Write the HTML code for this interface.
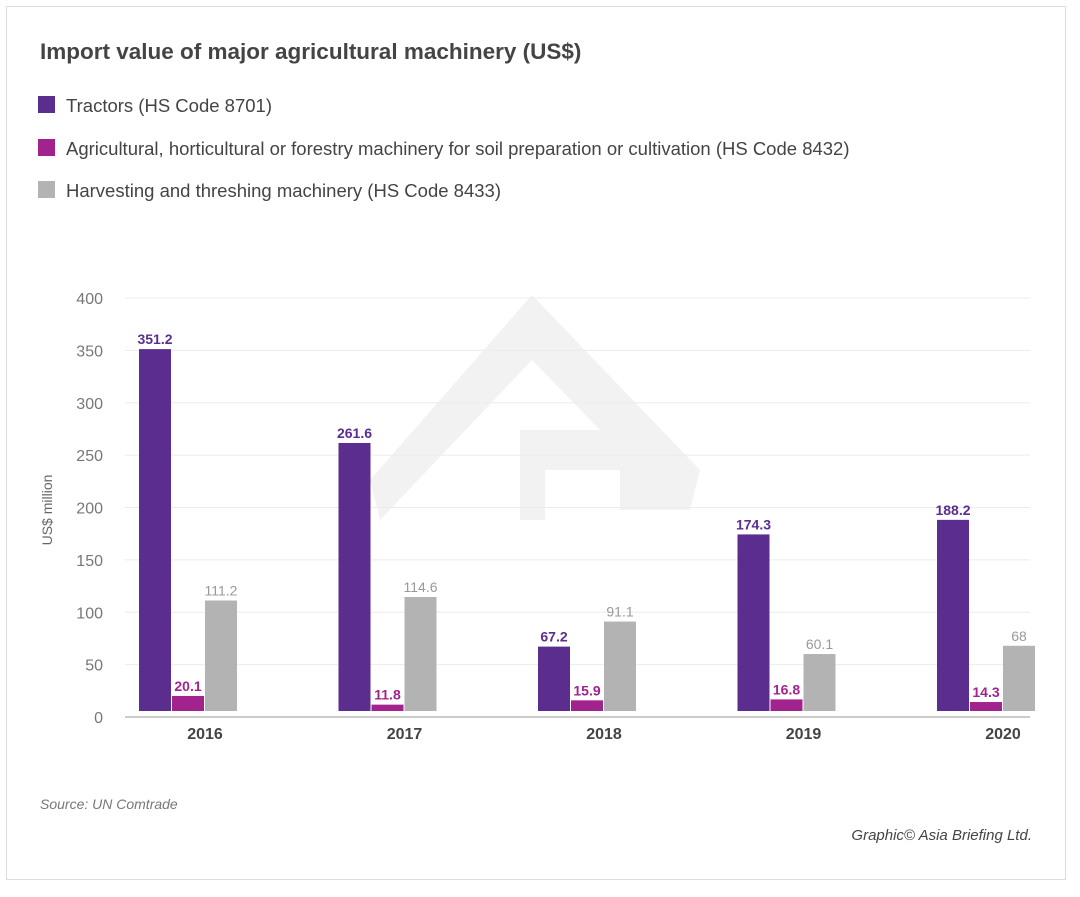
<!DOCTYPE html>
<html><head><meta charset="utf-8"><style>
body{margin:0;background:#fff;font-family:"Liberation Sans",sans-serif;}
#card{position:absolute;left:6px;top:6px;width:1058px;height:872px;border:1px solid #ddd;background:#fff;}
</style></head><body>
<div id="card"></div>
<svg id="chart" width="1080" height="897" style="position:absolute;left:0;top:0">
<text x="40" y="59" font-size="22.5" font-weight="bold" fill="#444">Import value of major agricultural machinery (US$)</text>
<g>
<rect x="38" y="96" width="17" height="17" fill="#5b2d8e"/>
<text x="66" y="112" font-size="18.5" fill="#444">Tractors (HS Code 8701)</text>
<rect x="38" y="139" width="17" height="17" fill="#a3238e"/>
<text x="66" y="155" font-size="18.5" fill="#444">Agricultural, horticultural or forestry machinery for soil preparation or cultivation (HS Code 8432)</text>
<rect x="38" y="181" width="17" height="17" fill="#b3b3b3"/>
<text x="66" y="197" font-size="18.5" fill="#444">Harvesting and threshing machinery (HS Code 8433)</text>
</g>
<polygon points="532,295 700,470 690,510 620,510 620,470 545,470 545,520 520,520 520,430 600,430 532,360 380,520 370,480" fill="#f2f2f2"/>
<g id="grid"></g><g id="bars"></g>
<text transform="translate(52,510) rotate(-90)" text-anchor="middle" font-size="14" fill="#666">US$ million</text>
<text x="40" y="809" font-size="14" font-style="italic" fill="#777">Source: UN Comtrade</text>
<text x="1032" y="840" text-anchor="end" font-size="15" font-style="italic" fill="#444">Graphic© Asia Briefing Ltd.</text>
</svg>
<script>
const categories=["2016","2017","2018","2019","2020"];
const tractors=[351.2,261.6,67.2,174.3,188.2];
const soil=[20.1,11.8,15.9,16.8,14.3];
const harvesting=[111.2,114.6,91.1,60.1,68];
const ticks=[0,50,100,150,200,250,300,350,400];
const NS="http://www.w3.org/2000/svg";
const y=v=>717-v*1.0475;
const x0=c=>139+c*199.5;
const g=document.getElementById('grid'),b=document.getElementById('bars');
function mk(t,a,p){const e=document.createElementNS(NS,t);for(const k in a)e.setAttribute(k,a[k]);p.appendChild(e);return e;}
ticks.forEach(t=>{
 const l=mk('line',{x1:125,x2:1030,y1:y(t),y2:y(t),stroke:t?'#ececec':'#ccc','stroke-width':t?1:2},g);
 
 
 const tx=mk('text',{x:103,y:y(t)+6,'text-anchor':'end','font-size':16,fill:'#777'},g);
 tx.textContent=t;
 
 
});
const series=[[tractors,'#5b2d8e','#5b2d8e',true,'tractors'],[soil,'#a3238e','#a3238e',true,'soil'],[harvesting,'#b3b3b3','#999',false,'harvesting']];
categories.forEach((c,i)=>{
 series.forEach((s,j)=>{
  const bx=x0(i)+j*33,v=s[0][i],top=y(v);
  const r=mk('rect',{x:bx,y:top,width:32,height:711-top,fill:s[1]},b);
  
  
  const t=mk('text',{x:bx+16,y:top-5,'text-anchor':'middle','font-size':14,fill:s[2],'font-weight':s[3]?'bold':'normal'},b);
  t.textContent=v;
  
  
 });
 const t=mk('text',{x:x0(i)+66,y:739,'text-anchor':'middle','font-size':16,'font-weight':'bold',fill:'#444'},b);
 t.textContent=c;
 
 
});
</script>
</body></html>
